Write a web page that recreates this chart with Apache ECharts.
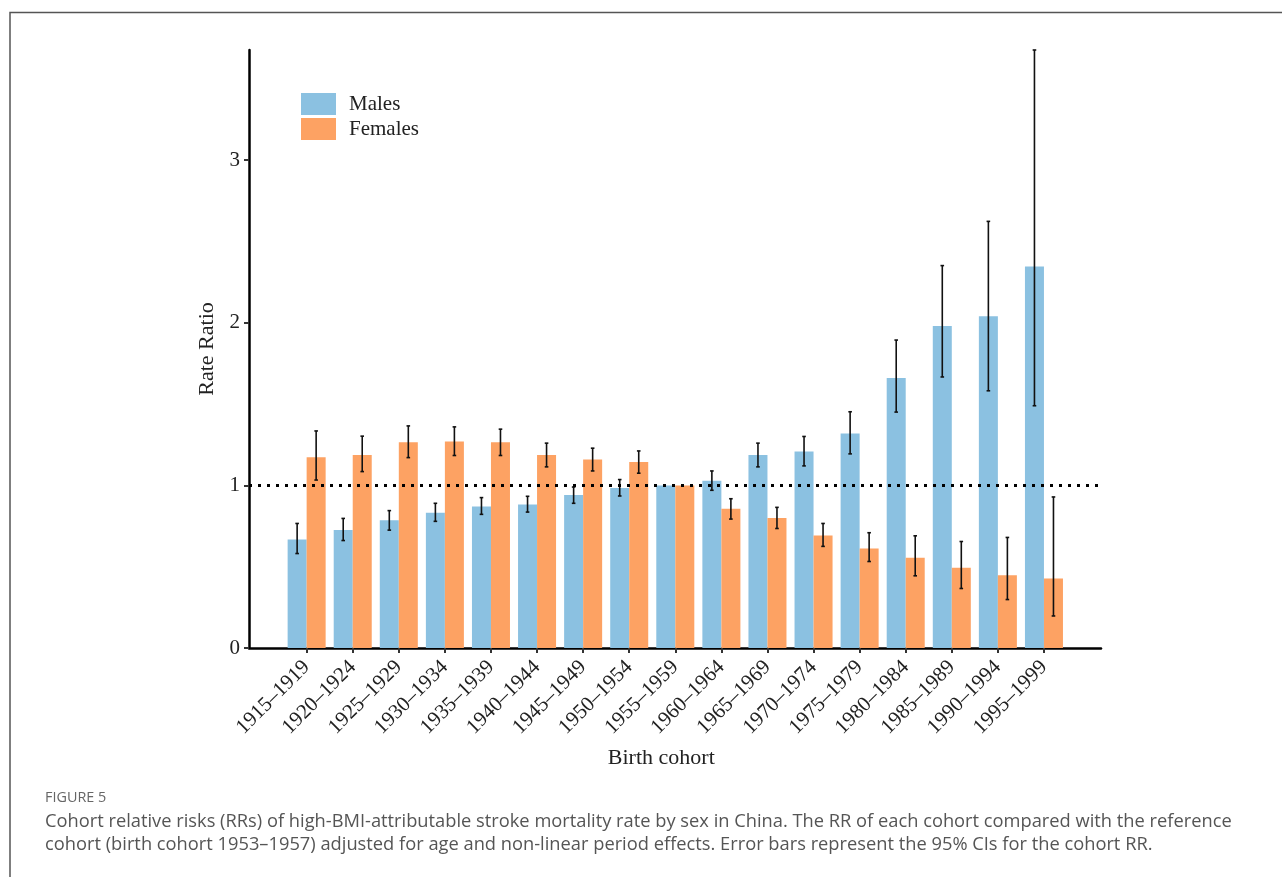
<!DOCTYPE html>
<html><head><meta charset="utf-8">
<script src="https://cdn.jsdelivr.net/npm/echarts@6/dist/echarts.min.js"></script>
<style>html,body{margin:0;padding:0;background:#fff}#c{width:1282px;height:877px}</style>
</head><body><div id="c"></div>
<script>
const categories = ['1915–1919','1920–1924','1925–1929','1930–1934','1935–1939','1940–1944','1945–1949','1950–1954','1955–1959','1960–1964','1965–1969','1970–1974','1975–1979','1980–1984','1985–1989','1990–1994','1995–1999'];
const males      = [0.668, 0.725, 0.785, 0.832, 0.871, 0.882, 0.941, 0.984, 1.000, 1.029, 1.187, 1.208, 1.319, 1.660, 1.981, 2.040, 2.347];
const malesLow   = [0.581, 0.661, 0.725, 0.779, 0.822, 0.836, 0.890, 0.935, null,  0.970, 1.114, 1.120, 1.194, 1.451, 1.667, 1.582, 1.490];
const malesHigh  = [0.766, 0.797, 0.845, 0.890, 0.925, 0.933, 0.990, 1.036, null,  1.089, 1.260, 1.301, 1.453, 1.894, 2.352, 2.624, 3.678];
const females    = [1.173, 1.187, 1.266, 1.270, 1.266, 1.187, 1.159, 1.144, 1.000, 0.857, 0.799, 0.692, 0.612, 0.555, 0.493, 0.448, 0.427];
const femalesLow = [1.033, 1.085, 1.171, 1.184, 1.184, 1.114, 1.089, 1.075, null,  0.793, 0.735, 0.625, 0.532, 0.444, 0.366, 0.298, 0.197];
const femalesHigh= [1.335, 1.303, 1.366, 1.360, 1.346, 1.260, 1.229, 1.212, null,  0.918, 0.865, 0.766, 0.709, 0.690, 0.655, 0.680, 0.929];
const referenceLine = 1;

const GAP = 0.175;
const SERIF = '"Liberation Serif", "Times New Roman", serif';
const SANS = '"Open Sans", "Noto Sans", sans-serif';
const yMax = Math.max(...malesHigh.filter(v => v != null), ...femalesHigh.filter(v => v != null));

function errData(lo, hi) {
  const out = [];
  categories.forEach((c, i) => { if (lo[i] != null && hi[i] != null) out.push([i, lo[i], hi[i]]); });
  return out;
}
function errRender(sign) {
  return function (params, api) {
    const i = api.value(0), lo = api.value(1), hi = api.value(2);
    const band = api.size([1, 0])[0];
    const bw = band * (1 - GAP) / 2;
    const pHi = api.coord([i, hi]), pLo = api.coord([i, lo]);
    const x = pHi[0] + sign * bw / 2;
    const cap = 1.8;
    const st = { stroke: '#111', lineWidth: 1.6 };
    return { type: 'group', children: [
      { type: 'line', shape: { x1: x, y1: pHi[1], x2: x, y2: pLo[1] }, style: st },
      { type: 'line', shape: { x1: x - cap, y1: pHi[1], x2: x + cap, y2: pHi[1] }, style: st },
      { type: 'line', shape: { x1: x - cap, y1: pLo[1], x2: x + cap, y2: pLo[1] }, style: st }
    ]};
  };
}

const chart = echarts.init(document.getElementById('c'), null, { renderer: 'canvas' });
chart.setOption({
  animation: false,
  backgroundColor: '#fff',
  textStyle: { fontFamily: SERIF },
  legend: {
    data: ['Males', 'Females'],
    orient: 'vertical', left: 296, top: 88,
    itemWidth: 35, itemHeight: 22, itemGap: 3,
    icon: 'rect',
    textStyle: { fontFamily: SERIF, fontSize: 21, color: '#222', padding: [0, 0, 0, 8] }
  },
  grid: [
    { left: 283.6, right: 215, top: 50, bottom: 229 },
    { left: 249, right: 181, top: 50, bottom: 229 }
  ],
  xAxis: [
    { type: 'category', gridIndex: 0, data: categories,
      axisLine: { show: false },
      axisTick: { show: true, alignWithLabel: true, length: 5, lineStyle: { color: '#333', width: 2 } },
      axisLabel: { interval: 0, rotate: 45, fontFamily: SERIF, fontSize: 21, color: '#222', margin: 16 },
      name: 'Birth cohort', nameLocation: 'middle', nameGap: 99,
      nameTextStyle: { fontFamily: SERIF, fontSize: 22, color: '#222', padding: [0, 28, 0, 0] }
    },
    { type: 'value', gridIndex: 1, min: 0, max: 1,
      axisLine: { show: true, onZero: false, lineStyle: { color: '#000', width: 2.5 } },
      axisTick: { show: false }, axisLabel: { show: false }, splitLine: { show: false }
    }
  ],
  yAxis: [
    { type: 'value', gridIndex: 0, min: 0, max: yMax, show: false, splitLine: { show: false } },
    { type: 'value', gridIndex: 1, min: 0, max: yMax, interval: 1,
      axisLine: { show: true, lineStyle: { color: '#000', width: 2.5 } },
      axisTick: { show: true, length: 5, lineStyle: { color: '#333', width: 2 } },
      axisLabel: { fontFamily: SERIF, fontSize: 21, color: '#222', margin: 9, showMaxLabel: false },
      splitLine: { show: false },
      name: 'Rate Ratio', nameLocation: 'middle', nameGap: 27,
      nameTextStyle: { fontFamily: SERIF, fontSize: 22, color: '#222' }
    }
  ],
  series: [
    { name: 'Males', type: 'bar', xAxisIndex: 0, yAxisIndex: 0, data: males,
      barGap: '0%', barCategoryGap: (GAP * 100) + '%', itemStyle: { color: '#8BC1E1' } },
    { name: 'Females', type: 'bar', xAxisIndex: 0, yAxisIndex: 0, data: females,
      barGap: '0%', barCategoryGap: (GAP * 100) + '%', itemStyle: { color: '#FDA263' } },
    { type: 'custom', xAxisIndex: 0, yAxisIndex: 0, z: 4, renderItem: errRender(-1),
      data: errData(malesLow, malesHigh), encode: { x: 0, y: [1, 2] } },
    { type: 'custom', xAxisIndex: 0, yAxisIndex: 0, z: 4, renderItem: errRender(1),
      data: errData(femalesLow, femalesHigh), encode: { x: 0, y: [1, 2] } },
    { type: 'line', xAxisIndex: 1, yAxisIndex: 1, data: [], z: 5,
      markLine: { silent: true, symbol: 'none', label: { show: false },
        lineStyle: { color: '#000', type: [3, 6], width: 3 },
        data: [{ yAxis: referenceLine }] } }
  ],
  graphic: [
    { type: 'polyline', silent: true, shape: { points: [[10, 877], [10, 12.5], [1282, 12.5]] },
      style: { stroke: '#555', lineWidth: 1.5, fill: null } },
    { type: 'text', left: 45, top: 791, silent: true,
      style: { text: 'FIGURE 5', font: '14.4px ' + SANS, fill: '#666' } },
    { type: 'text', left: 45, top: 810, silent: true,
      style: { text: 'Cohort relative risks (RRs) of high-BMI-attributable stroke mortality rate by sex in China. The RR of each cohort compared with the reference\ncohort (birth cohort 1953–1957) adjusted for age and non-linear period effects. Error bars represent the 95% CIs for the cohort RR.',
        font: '18.3px ' + SANS, fill: '#555', lineHeight: 23 } }
  ]
});
</script>
</body></html>
